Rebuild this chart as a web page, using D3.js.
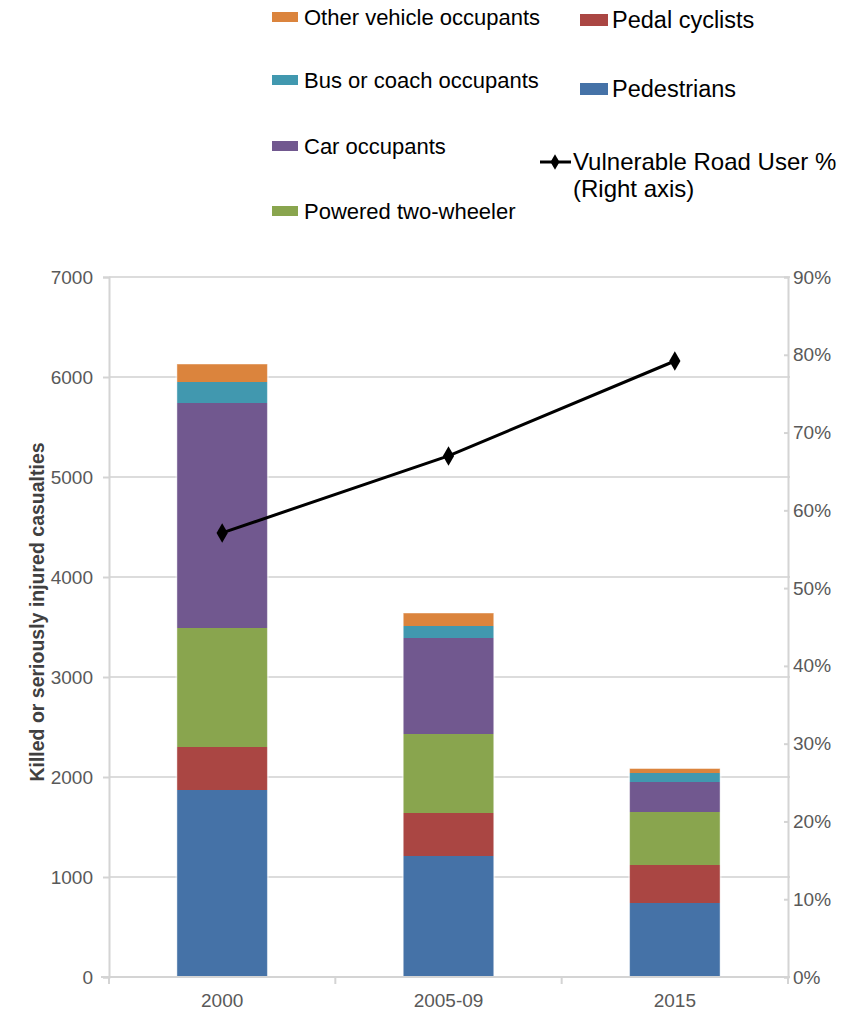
<!DOCTYPE html>
<html>
<head>
<meta charset="utf-8">
<script src="https://d3js.org/d3.v7.min.js"></script>
<style>
  html, body { margin: 0; padding: 0; background: #fff; }
  svg { display: block; font-family: "Liberation Sans", Arial, sans-serif; }
</style>
</head>
<body>
<svg id="chart" width="861" height="1013"></svg>
<script>
// ---- Data ----
const categories = ["2000", "2005-09", "2015"];
const seriesNames = ["Pedestrians", "Pedal cyclists", "Powered two-wheeler", "Car occupants", "Bus or coach occupants", "Other vehicle occupants"];
const pedestrians = [1870, 1210, 740];
const pedalCyclists = [430, 430, 380];
const poweredTwoWheeler = [1190, 790, 530];
const carOccupants = [2250, 960, 300];
const busOccupants = [210, 120, 90];
const otherOccupants = [180, 130, 45];
const vulnerablePct = [57.1, 67.0, 79.2];
const leftTicks = [0, 1000, 2000, 3000, 4000, 5000, 6000, 7000];
const rightTicks = [0, 10, 20, 30, 40, 50, 60, 70, 80, 90];
const colors = ["#4572A7", "#AA4643", "#89A54E", "#71588F", "#4198AF", "#DB843D"];

const seriesValues = [pedestrians, pedalCyclists, poweredTwoWheeler, carOccupants, busOccupants, otherOccupants];
const rows = categories.map((c, i) => {
  const r = { cat: c };
  seriesNames.forEach((s, j) => r[s] = seriesValues[j][i]);
  return r;
});

const svg = d3.select("#chart");
const x0 = 109, x1 = 788, yTop = 277, yBot = 977;

const x = d3.scaleBand().domain(categories).range([x0, x1]).paddingInner(0.6).paddingOuter(0.3);
const xOuter = d3.scaleBand().domain(categories).range([x0, x1]);
const y = d3.scaleLinear().domain([0, 7000]).range([yBot, yTop]);
const y2 = d3.scaleLinear().domain([0, 90]).range([yBot, yTop]);

// gridlines
svg.append("g").selectAll("line").data(leftTicks.slice(1)).join("line")
  .attr("x1", x0).attr("x2", x1 + 2)
  .attr("y1", d => y(d)).attr("y2", d => y(d))
  .attr("stroke", "#dcdcdc").attr("stroke-width", 2);

// stacked bars
const stack = d3.stack().keys(seriesNames)(rows);
const g = svg.append("g");
stack.forEach((layer, j) => {
  g.selectAll(null).data(layer).join("rect")
    .attr("x", d => x(d.data.cat))
    .attr("width", x.bandwidth())
    .attr("y", d => y(d[1]))
    .attr("height", d => y(d[0]) - y(d[1]))
    .attr("fill", colors[j]);
});
// soft light edges
g.selectAll(null).data(stack[stack.length - 1]).join("rect")
  .attr("x", d => x(d.data.cat) - 0.5)
  .attr("width", x.bandwidth() + 1)
  .attr("y", d => y(d[1]) - 0.5)
  .attr("height", d => yBot - y(d[1]) + 0.5)
  .attr("fill", "none").attr("stroke", "#ffffff").attr("stroke-opacity", 0.45).attr("stroke-width", 2);

// axes
const axisColor = "#d4d4d4";
const labelColor = "#595959";
const tickFont = 19;

const leftAxis = svg.append("g").attr("transform", `translate(${x0},0)`)
  .call(d3.axisLeft(y).tickValues(leftTicks).tickSize(6).tickPadding(10).tickFormat(d3.format("d")));
leftAxis.select(".domain").attr("stroke", axisColor).attr("stroke-width", 2);
leftAxis.selectAll(".tick line").attr("stroke", axisColor).attr("stroke-width", 2);
leftAxis.selectAll(".tick text").attr("fill", labelColor).attr("font-size", tickFont).attr("font-family", "Liberation Sans, Arial, sans-serif");

const rightAxis = svg.append("g").attr("transform", `translate(${x1},0)`)
  .call(d3.axisRight(y2).tickValues(rightTicks).tickSize(-4).tickPadding(5).tickFormat(d => d + "%"));
rightAxis.select(".domain").attr("stroke", axisColor).attr("stroke-width", 2);
rightAxis.selectAll(".tick line").attr("stroke", axisColor).attr("stroke-width", 2);
rightAxis.selectAll(".tick text").attr("fill", labelColor).attr("font-size", tickFont).attr("font-family", "Liberation Sans, Arial, sans-serif");

// bottom axis
const bottom = svg.append("g").attr("transform", `translate(0,${yBot})`);
bottom.append("line").attr("x1", x0 - 8).attr("x2", x1 + 2).attr("y1", 0).attr("y2", 0)
  .attr("stroke", axisColor).attr("stroke-width", 2);
const boundaries = categories.map(c => xOuter(c)).concat([x1]);
bottom.selectAll("line.tk").data(boundaries).join("line").attr("class", "tk")
  .attr("x1", d => d).attr("x2", d => d).attr("y1", 0).attr("y2", 7)
  .attr("stroke", axisColor).attr("stroke-width", 2);
bottom.selectAll("text").data(categories).join("text")
  .attr("x", d => xOuter(d) + xOuter.bandwidth() / 2)
  .attr("y", 30)
  .attr("text-anchor", "middle")
  .attr("fill", labelColor).attr("font-size", tickFont)
  .text(d => d);

// y-axis title
svg.append("text")
  .attr("transform", `translate(44,612) rotate(-90)`)
  .attr("text-anchor", "middle")
  .attr("font-size", 19.5).attr("font-weight", "bold").attr("fill", "#404040")
  .text("Killed  or seriously injured casualties");

// line
const lineX = d => xOuter(d) + xOuter.bandwidth() / 2;
const lineData = categories.map((c, i) => ({ cat: c, v: vulnerablePct[i] }));
svg.append("path").datum(lineData)
  .attr("d", d3.line().x(d => lineX(d.cat)).y(d => y2(d.v)))
  .attr("fill", "none").attr("stroke", "#000").attr("stroke-width", 3);
const diamond = d3.symbol().type(d3.symbolDiamond).size(110);
svg.selectAll("path.mk").data(lineData).join("path").attr("class", "mk")
  .attr("d", diamond)
  .attr("transform", d => `translate(${lineX(d.cat)},${y2(d.v)})`)
  .attr("fill", "#000");

// legend
const legLeft = [
  { name: "Other vehicle occupants", c: colors[5], y: 17 },
  { name: "Bus or coach occupants", c: colors[4], y: 80 },
  { name: "Car occupants", c: colors[3], y: 146 },
  { name: "Powered two-wheeler", c: colors[2], y: 211 }
];
const legRight = [
  { name: "Pedal cyclists", c: colors[1], y: 20 },
  { name: "Pedestrians", c: colors[0], y: 89 }
];
const leg = svg.append("g");
leg.selectAll("rect.l").data(legLeft).join("rect").attr("class", "l")
  .attr("x", 272).attr("y", d => d.y - 5).attr("width", 26).attr("height", 10).attr("fill", d => d.c);
leg.selectAll("text.l").data(legLeft).join("text").attr("class", "l")
  .attr("x", 304).attr("y", d => d.y).attr("dy", "0.35em")
  .attr("font-size", 22).attr("fill", "#000").text(d => d.name);
leg.selectAll("rect.r").data(legRight).join("rect").attr("class", "r")
  .attr("x", 580).attr("y", d => d.y - 6).attr("width", 28).attr("height", 12).attr("fill", d => d.c);
leg.selectAll("text.r").data(legRight).join("text").attr("class", "r")
  .attr("x", 612).attr("y", d => d.y).attr("dy", "0.35em")
  .attr("font-size", 23.5).attr("fill", "#000").text(d => d.name);
// line legend
leg.append("line").attr("x1", 540).attr("x2", 571).attr("y1", 162).attr("y2", 162)
  .attr("stroke", "#000").attr("stroke-width", 3);
leg.append("path").attr("d", d3.symbol().type(d3.symbolDiamond).size(70))
  .attr("transform", "translate(555,162)").attr("fill", "#000");
leg.append("text").attr("x", 573).attr("y", 162).attr("dy", "0.35em")
  .attr("font-size", 24).attr("fill", "#000").text("Vulnerable Road User %");
leg.append("text").attr("x", 573).attr("y", 189).attr("dy", "0.35em")
  .attr("font-size", 24).attr("fill", "#000").text("(Right axis)");
</script>
</body>
</html>
